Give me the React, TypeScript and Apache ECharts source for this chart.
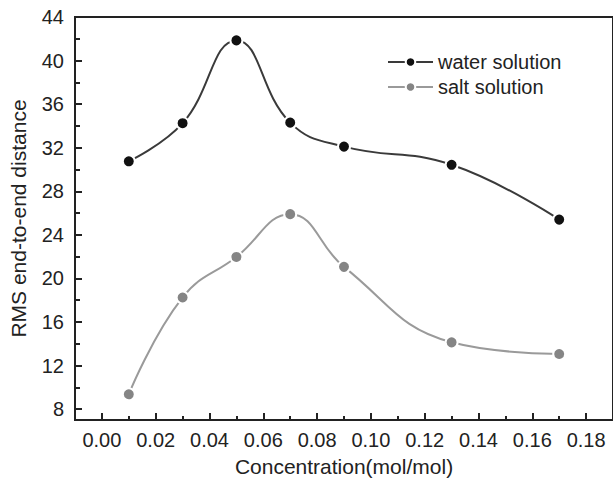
import React, { useEffect, useRef } from "react";
import * as echarts from "echarts";

const concentrations = [0.01, 0.03, 0.05, 0.07, 0.09, 0.13, 0.17];
const waterValues = [30.75, 34.25, 41.85, 34.3, 32.1, 30.43, 25.4];
const saltValues = [9.36, 18.25, 21.97, 25.9, 21.06, 14.13, 13.06];
const xMajorTicks = [0, 0.02, 0.04, 0.06, 0.08, 0.1, 0.12, 0.14, 0.16, 0.18];
const xMinorTicks = [0.01, 0.03, 0.05, 0.07, 0.09, 0.11, 0.13, 0.15, 0.17];
const yMajorTicks = [8, 12, 16, 20, 24, 28, 32, 36, 40, 44];
const yMinorTicks = [10, 14, 18, 22, 26, 30, 34, 38, 42];

const FONT = "'Liberation Sans', Arial, Helvetica, sans-serif";
const AX = "#222";

export default function App() {
  const ref = useRef<HTMLDivElement>(null);
  useEffect(() => {
    if (!ref.current) return;
    const chart = echarts.init(ref.current, null, { renderer: "svg" });
    const water = concentrations.map((c, i) => [c, waterValues[i]]);
    const salt = concentrations.map((c, i) => [c, saltValues[i]]);
    const xBase = {
      type: "value" as const,
      min: -0.01,
      max: 0.19,
      splitLine: { show: false },
    };
    const yBase = {
      type: "value" as const,
      min: 7,
      max: 44,
      splitLine: { show: false },
    };
    chart.setOption({
      animation: false,
      backgroundColor: "#fff",
      textStyle: { fontFamily: FONT },
      grid: {
        left: 75,
        top: 17,
        width: 548,
        bottom: 59,
        show: true,
        borderColor: AX,
        borderWidth: 2,
        backgroundColor: "transparent",
      },
      legend: {
        orient: "vertical",
        left: 382,
        top: 47,
        itemWidth: 45,
        itemHeight: 12,
        itemGap: 5,
        textStyle: { fontSize: 20, color: "#222", fontFamily: FONT },
        data: ["water solution", "salt solution"],
      },
      xAxis: [
        {
          ...xBase,
          name: "Concentration(mol/mol)",
          nameLocation: "middle",
          nameGap: 36,
          nameTextStyle: { fontSize: 21, color: "#222", fontFamily: FONT },
          axisLine: { show: true, onZero: false, lineStyle: { color: AX, width: 2 } },
          axisTick: {
            show: true,
            inside: true,
            length: 7,
            customValues: xMajorTicks,
            lineStyle: { color: AX, width: 2 },
          },
          axisLabel: {
            customValues: xMajorTicks,
            fontSize: 20,
            color: "#222",
            margin: 10,
            fontFamily: FONT,
            formatter: (v: number) => v.toFixed(2),
          },
        },
        {
          ...xBase,
          position: "bottom",
          offset: 0,
          axisLine: { show: false, onZero: false },
          axisTick: {
            show: true,
            inside: true,
            length: 4,
            customValues: xMinorTicks,
            lineStyle: { color: AX, width: 2 },
          },
          axisLabel: { show: false },
        },
      ],
      yAxis: [
        {
          ...yBase,
          name: "RMS end-to-end distance",
          nameLocation: "middle",
          nameGap: 46,
          nameTextStyle: { fontSize: 21, color: "#222", fontFamily: FONT },
          axisLine: { show: true, onZero: false, lineStyle: { color: AX, width: 2 } },
          axisTick: {
            show: true,
            inside: true,
            length: 7,
            customValues: yMajorTicks,
            lineStyle: { color: AX, width: 2 },
          },
          axisLabel: {
            customValues: yMajorTicks,
            fontSize: 20,
            color: "#222",
            margin: 11,
            fontFamily: FONT,
          },
        },
        {
          ...yBase,
          position: "left",
          offset: 0,
          axisLine: { show: false, onZero: false },
          axisTick: {
            show: true,
            inside: true,
            length: 5,
            customValues: yMinorTicks,
            lineStyle: { color: AX, width: 2 },
          },
          axisLabel: { show: false },
        },
      ],
      series: [
        {
          name: "water solution",
          type: "line",
          data: water,
          smooth: 0.45,
          symbol: "circle",
          symbolSize: 12,
          lineStyle: { color: "#3a3a3a", width: 2 },
          itemStyle: { color: "#111", borderColor: "#fff", borderWidth: 2 },
        },
        {
          name: "salt solution",
          type: "line",
          data: salt,
          smooth: 0.45,
          symbol: "circle",
          symbolSize: 12,
          lineStyle: { color: "#9a9a9a", width: 2 },
          itemStyle: { color: "#858585", borderColor: "#fff", borderWidth: 2 },
        },
      ],
    });
    return () => chart.dispose();
  }, []);
  return (
    <div
      ref={ref}
      style={{ position: "fixed", left: 0, top: 0, width: 613, height: 482 }}
    />
  );
}
